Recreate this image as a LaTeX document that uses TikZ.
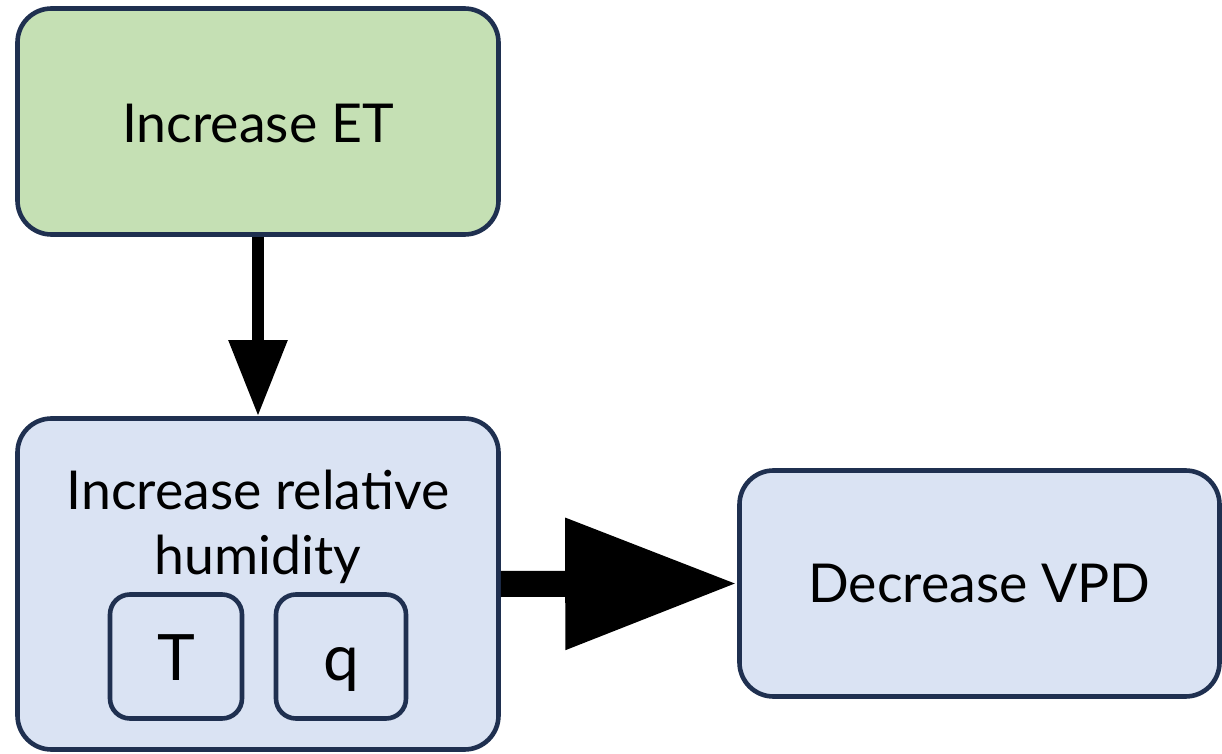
\documentclass[tikz,border=0pt]{standalone}
\usepackage{fontspec}
\setmainfont{Lato}
\usetikzlibrary{arrows.meta}
\definecolor{boxline}{HTML}{1F3050}
\definecolor{greenfill}{HTML}{C5E0B4}
\definecolor{bluefill}{HTML}{DAE3F3}
\tikzset{
  bigbox/.style={draw=boxline, line width=2.3pt, rounded corners=17pt, inner sep=0pt},
  smallbox/.style={draw=boxline, line width=2.3pt, rounded corners=10pt, fill=bluefill, inner sep=0pt,
    font=\fontsize{32}{38}\selectfont, text height=23.5pt, text depth=0pt},
  label/.style={font=\fontsize{26.8}{32.5}\selectfont, align=center, inner sep=0pt}
}
\begin{document}
\begin{tikzpicture}[x=0.5pt,y=-0.5pt]
\useasboundingbox (0,0) rectangle (1222,754);
\node[bigbox, fill=greenfill, minimum width=240.5pt, minimum height=113pt] (et) at (258,121.5) {};
\node[label] (ettext) at (258,124) {Increase ET};
\node[bigbox, fill=bluefill, minimum width=240.5pt, minimum height=165.5pt] (rh) at (258,584) {};
\node[label] (rhtext) at (258,527) {Increase relative\\humidity};
\node[smallbox, minimum width=66pt, minimum height=62pt] (t) at (176,656.5) {T};
\node[smallbox, minimum width=65pt, minimum height=62pt] (q) at (341,656.5) {q};
\node[bigbox, fill=bluefill, minimum width=240pt, minimum height=113pt] (vpd) at (979.5,583.5) {};
\node[label] (vpdtext) at (979.5,584) {Decrease VPD};
\draw[line width=6pt, -{Triangle[width=28pt,length=38pt]}] (et.south) -- (rh.north);
\draw[line width=13pt, -{Triangle[width=62.5pt,length=86pt]}] (rh.east) -- (vpd.west);
\end{tikzpicture}
\end{document}
